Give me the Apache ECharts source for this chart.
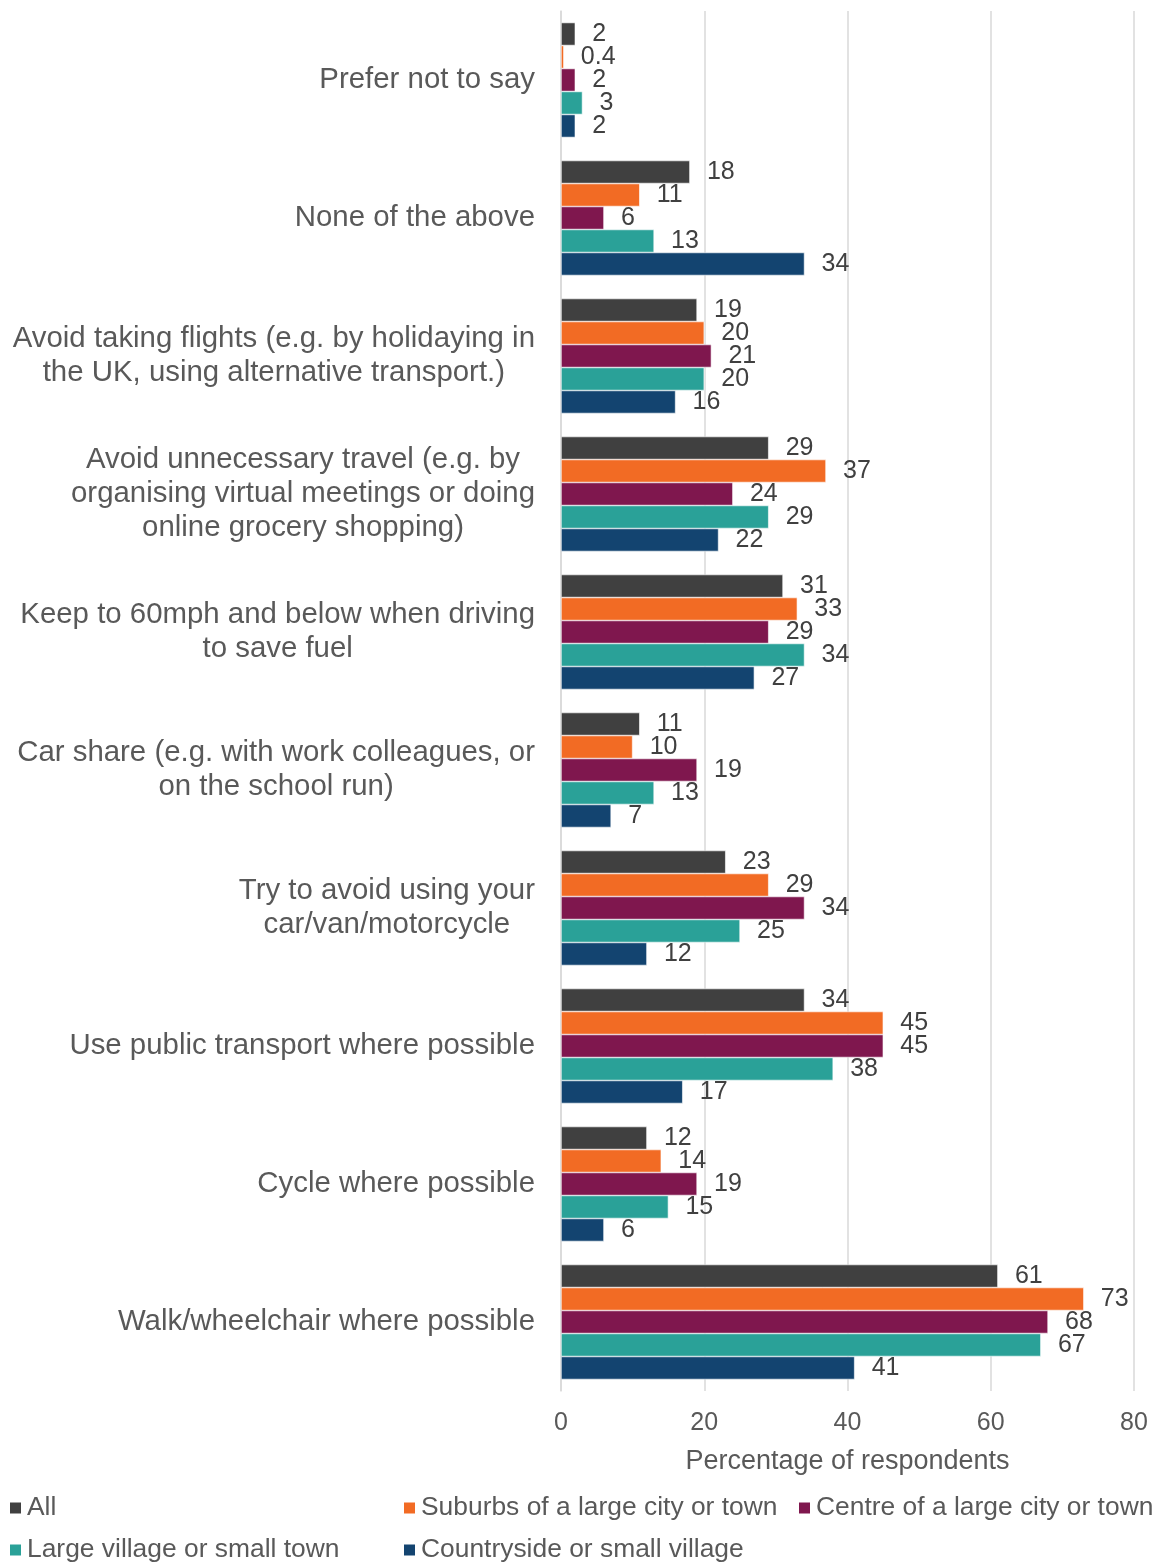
<!DOCTYPE html>
<html>
<head>
<meta charset="utf-8">
<title>Travel behaviour by area type</title>
<script src="https://cdn.jsdelivr.net/npm/echarts@6/dist/echarts.min.js"></script>
<style>
  html, body { margin: 0; padding: 0; background: #fff; }
  #chart { width: 1168px; height: 1562px; }
</style>
</head>
<body>
<div id="chart"></div>
<script>
// Actions, listed top to bottom
const categories = [
  'Prefer not to say',
  'None of the above',
  'Avoid taking flights (e.g. by holidaying in\nthe UK, using alternative transport.)',
  'Avoid unnecessary travel (e.g. by\norganising virtual meetings or doing\nonline grocery shopping)',
  'Keep to 60mph and below when driving\nto save fuel',
  'Car share (e.g. with work colleagues, or\non the school run)',
  'Try to avoid using your\ncar/van/motorcycle',
  'Use public transport where possible',
  'Cycle where possible',
  'Walk/wheelchair where possible'
];

const seriesNames = [
  'All',
  'Suburbs of a large city or town',
  'Centre of a large city or town',
  'Large village or small town',
  'Countryside or small village'
];

// Percentage of respondents per area type
const allRespondents = [2, 18, 19, 29, 31, 11, 23, 34, 12, 61];
const suburbs        = [0.4, 11, 20, 37, 33, 10, 29, 45, 14, 73];
const cityCentre     = [2, 6, 21, 24, 29, 19, 34, 45, 19, 68];
const largeVillage   = [3, 13, 20, 29, 34, 13, 25, 38, 15, 67];
const countryside    = [2, 34, 16, 22, 27, 7, 12, 17, 6, 41];

const xTicks = [0, 20, 40, 60, 80];

const colors = ['#404040', '#F26B24', '#7F174E', '#2AA198', '#134470'];
const values = [allRespondents, suburbs, cityCentre, largeVillage, countryside];

const textColor = '#595959';
const valueColor = '#404040';
const fontFamily = '"Liberation Sans", Arial, sans-serif';

const chart = echarts.init(document.getElementById('chart'), null, { renderer: 'canvas' });

const series = seriesNames.map((name, i) => ({
  name: name,
  type: 'bar',
  data: values[i],
  barGap: '0%',
  barCategoryGap: '16.7%',
  itemStyle: { color: colors[i], borderColor: '#ffffff', borderWidth: 0.6 },
  label: {
    show: true,
    position: 'right',
    distance: 17,
    color: valueColor,
    fontSize: 25,
    fontFamily: fontFamily
  }
}));

// legend entries laid out on a two-row grid below the axis title
const legendSlots = [
  { left: 8,   top: 1493 },
  { left: 402, top: 1493 },
  { left: 797, top: 1493 },
  { left: 8,   top: 1535 },
  { left: 402, top: 1535 }
];
const legends = seriesNames.map((name, i) => ({
  left: legendSlots[i].left,
  top: legendSlots[i].top,
  padding: 0,
  icon: 'rect',
  itemWidth: 13,
  itemHeight: 13,
  selectedMode: false,
  data: [name],
  textStyle: {
    color: textColor,
    fontSize: 26.4,
    fontFamily: fontFamily,
    lineHeight: 30
  }
}));

chart.setOption({
  animation: false,
  backgroundColor: '#ffffff',
  color: colors,
  textStyle: { fontFamily: fontFamily },
  grid: { left: 561, right: 34, top: 11, bottom: 171, containLabel: false },
  legend: legends,
  xAxis: {
    type: 'value',
    min: xTicks[0],
    max: xTicks[xTicks.length - 1],
    interval: xTicks[1] - xTicks[0],
    name: 'Percentage of respondents',
    nameLocation: 'middle',
    nameGap: 57,
    nameTextStyle: { color: textColor, fontSize: 27, fontFamily: fontFamily },
    axisLine: { show: false },
    axisTick: { show: false },
    axisLabel: { color: textColor, fontSize: 25, margin: 20, fontFamily: fontFamily },
    splitLine: { show: true, lineStyle: { color: '#D9D9D9', width: 1.5 } }
  },
  yAxis: {
    type: 'category',
    inverse: true,
    data: categories,
    axisLine: { show: true, lineStyle: { color: '#D9D9D9', width: 1.5 } },
    axisTick: { show: false },
    axisLabel: {
      margin: 26,
      color: textColor,
      fontSize: 29.4,
      fontFamily: fontFamily,
      lineHeight: 34,
      // each line is centred inside a right-aligned block
      formatter: (v) => v.split('\n').map(l => '{c|' + l + '}').join('\n'),
      rich: {
        c: { align: 'center', color: textColor, fontSize: 29.4, fontFamily: fontFamily, lineHeight: 34 }
      }
    }
  },
  series: series
});
</script>
</body>
</html>
